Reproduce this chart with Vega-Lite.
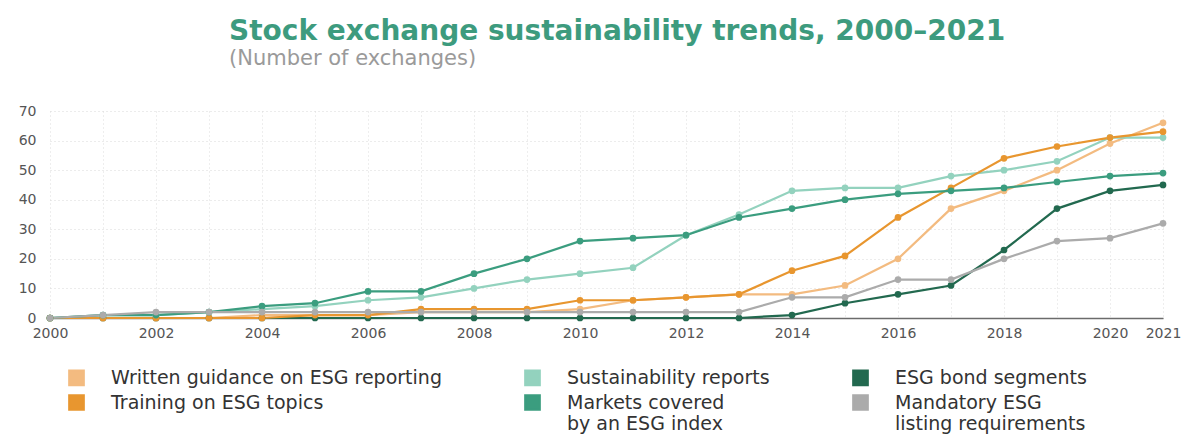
{
  "$schema": "https://vega.github.io/schema/vega-lite/v6.json",
  "width": 1113,
  "height": 207,
  "autosize": {"type": "none"},
  "padding": {"left": 50, "top": 111, "right": 21, "bottom": 116},
  "background": "#ffffff",
  "config": {"view": {"stroke": null}},
  "title": {
    "text": "Stock exchange sustainability trends, 2000–2021",
    "subtitle": "(Number of exchanges)",
    "anchor": "start",
    "frame": "group",
    "dx": 179,
    "offset": 35,
    "font": "DejaVu Sans",
    "fontSize": 28,
    "fontWeight": "bold",
    "color": "#3d9b7e",
    "subtitleFont": "DejaVu Sans",
    "subtitleFontSize": 21,
    "subtitleColor": "#9a9a9a",
    "subtitlePadding": 2
  },
  "data": {
    "values": [
      {"year": 2000, "series": "Written guidance on ESG reporting", "value": 0},
      {"year": 2001, "series": "Written guidance on ESG reporting", "value": 0},
      {"year": 2002, "series": "Written guidance on ESG reporting", "value": 0},
      {"year": 2003, "series": "Written guidance on ESG reporting", "value": 0},
      {"year": 2004, "series": "Written guidance on ESG reporting", "value": 1},
      {"year": 2005, "series": "Written guidance on ESG reporting", "value": 1},
      {"year": 2006, "series": "Written guidance on ESG reporting", "value": 1},
      {"year": 2007, "series": "Written guidance on ESG reporting", "value": 2},
      {"year": 2008, "series": "Written guidance on ESG reporting", "value": 2},
      {"year": 2009, "series": "Written guidance on ESG reporting", "value": 2},
      {"year": 2010, "series": "Written guidance on ESG reporting", "value": 3},
      {"year": 2011, "series": "Written guidance on ESG reporting", "value": 6},
      {"year": 2012, "series": "Written guidance on ESG reporting", "value": 7},
      {"year": 2013, "series": "Written guidance on ESG reporting", "value": 8},
      {"year": 2014, "series": "Written guidance on ESG reporting", "value": 8},
      {"year": 2015, "series": "Written guidance on ESG reporting", "value": 11},
      {"year": 2016, "series": "Written guidance on ESG reporting", "value": 20},
      {"year": 2017, "series": "Written guidance on ESG reporting", "value": 37},
      {"year": 2018, "series": "Written guidance on ESG reporting", "value": 43},
      {"year": 2019, "series": "Written guidance on ESG reporting", "value": 50},
      {"year": 2020, "series": "Written guidance on ESG reporting", "value": 59},
      {"year": 2021, "series": "Written guidance on ESG reporting", "value": 66},

      {"year": 2000, "series": "Sustainability reports", "value": 0},
      {"year": 2001, "series": "Sustainability reports", "value": 1},
      {"year": 2002, "series": "Sustainability reports", "value": 1},
      {"year": 2003, "series": "Sustainability reports", "value": 2},
      {"year": 2004, "series": "Sustainability reports", "value": 3},
      {"year": 2005, "series": "Sustainability reports", "value": 4},
      {"year": 2006, "series": "Sustainability reports", "value": 6},
      {"year": 2007, "series": "Sustainability reports", "value": 7},
      {"year": 2008, "series": "Sustainability reports", "value": 10},
      {"year": 2009, "series": "Sustainability reports", "value": 13},
      {"year": 2010, "series": "Sustainability reports", "value": 15},
      {"year": 2011, "series": "Sustainability reports", "value": 17},
      {"year": 2012, "series": "Sustainability reports", "value": 28},
      {"year": 2013, "series": "Sustainability reports", "value": 35},
      {"year": 2014, "series": "Sustainability reports", "value": 43},
      {"year": 2015, "series": "Sustainability reports", "value": 44},
      {"year": 2016, "series": "Sustainability reports", "value": 44},
      {"year": 2017, "series": "Sustainability reports", "value": 48},
      {"year": 2018, "series": "Sustainability reports", "value": 50},
      {"year": 2019, "series": "Sustainability reports", "value": 53},
      {"year": 2020, "series": "Sustainability reports", "value": 61},
      {"year": 2021, "series": "Sustainability reports", "value": 61},

      {"year": 2000, "series": "ESG bond segments", "value": 0},
      {"year": 2001, "series": "ESG bond segments", "value": 0},
      {"year": 2002, "series": "ESG bond segments", "value": 0},
      {"year": 2003, "series": "ESG bond segments", "value": 0},
      {"year": 2004, "series": "ESG bond segments", "value": 0},
      {"year": 2005, "series": "ESG bond segments", "value": 0},
      {"year": 2006, "series": "ESG bond segments", "value": 0},
      {"year": 2007, "series": "ESG bond segments", "value": 0},
      {"year": 2008, "series": "ESG bond segments", "value": 0},
      {"year": 2009, "series": "ESG bond segments", "value": 0},
      {"year": 2010, "series": "ESG bond segments", "value": 0},
      {"year": 2011, "series": "ESG bond segments", "value": 0},
      {"year": 2012, "series": "ESG bond segments", "value": 0},
      {"year": 2013, "series": "ESG bond segments", "value": 0},
      {"year": 2014, "series": "ESG bond segments", "value": 1},
      {"year": 2015, "series": "ESG bond segments", "value": 5},
      {"year": 2016, "series": "ESG bond segments", "value": 8},
      {"year": 2017, "series": "ESG bond segments", "value": 11},
      {"year": 2018, "series": "ESG bond segments", "value": 23},
      {"year": 2019, "series": "ESG bond segments", "value": 37},
      {"year": 2020, "series": "ESG bond segments", "value": 43},
      {"year": 2021, "series": "ESG bond segments", "value": 45},

      {"year": 2000, "series": "Training on ESG topics", "value": 0},
      {"year": 2001, "series": "Training on ESG topics", "value": 0},
      {"year": 2002, "series": "Training on ESG topics", "value": 0},
      {"year": 2003, "series": "Training on ESG topics", "value": 0},
      {"year": 2004, "series": "Training on ESG topics", "value": 0},
      {"year": 2005, "series": "Training on ESG topics", "value": 1},
      {"year": 2006, "series": "Training on ESG topics", "value": 1},
      {"year": 2007, "series": "Training on ESG topics", "value": 3},
      {"year": 2008, "series": "Training on ESG topics", "value": 3},
      {"year": 2009, "series": "Training on ESG topics", "value": 3},
      {"year": 2010, "series": "Training on ESG topics", "value": 6},
      {"year": 2011, "series": "Training on ESG topics", "value": 6},
      {"year": 2012, "series": "Training on ESG topics", "value": 7},
      {"year": 2013, "series": "Training on ESG topics", "value": 8},
      {"year": 2014, "series": "Training on ESG topics", "value": 16},
      {"year": 2015, "series": "Training on ESG topics", "value": 21},
      {"year": 2016, "series": "Training on ESG topics", "value": 34},
      {"year": 2017, "series": "Training on ESG topics", "value": 44},
      {"year": 2018, "series": "Training on ESG topics", "value": 54},
      {"year": 2019, "series": "Training on ESG topics", "value": 58},
      {"year": 2020, "series": "Training on ESG topics", "value": 61},
      {"year": 2021, "series": "Training on ESG topics", "value": 63},

      {"year": 2000, "series": "Markets covered by an ESG index", "value": 0},
      {"year": 2001, "series": "Markets covered by an ESG index", "value": 1},
      {"year": 2002, "series": "Markets covered by an ESG index", "value": 1},
      {"year": 2003, "series": "Markets covered by an ESG index", "value": 2},
      {"year": 2004, "series": "Markets covered by an ESG index", "value": 4},
      {"year": 2005, "series": "Markets covered by an ESG index", "value": 5},
      {"year": 2006, "series": "Markets covered by an ESG index", "value": 9},
      {"year": 2007, "series": "Markets covered by an ESG index", "value": 9},
      {"year": 2008, "series": "Markets covered by an ESG index", "value": 15},
      {"year": 2009, "series": "Markets covered by an ESG index", "value": 20},
      {"year": 2010, "series": "Markets covered by an ESG index", "value": 26},
      {"year": 2011, "series": "Markets covered by an ESG index", "value": 27},
      {"year": 2012, "series": "Markets covered by an ESG index", "value": 28},
      {"year": 2013, "series": "Markets covered by an ESG index", "value": 34},
      {"year": 2014, "series": "Markets covered by an ESG index", "value": 37},
      {"year": 2015, "series": "Markets covered by an ESG index", "value": 40},
      {"year": 2016, "series": "Markets covered by an ESG index", "value": 42},
      {"year": 2017, "series": "Markets covered by an ESG index", "value": 43},
      {"year": 2018, "series": "Markets covered by an ESG index", "value": 44},
      {"year": 2019, "series": "Markets covered by an ESG index", "value": 46},
      {"year": 2020, "series": "Markets covered by an ESG index", "value": 48},
      {"year": 2021, "series": "Markets covered by an ESG index", "value": 49},

      {"year": 2000, "series": "Mandatory ESG listing requirements", "value": 0},
      {"year": 2001, "series": "Mandatory ESG listing requirements", "value": 1},
      {"year": 2002, "series": "Mandatory ESG listing requirements", "value": 2},
      {"year": 2003, "series": "Mandatory ESG listing requirements", "value": 2},
      {"year": 2004, "series": "Mandatory ESG listing requirements", "value": 2},
      {"year": 2005, "series": "Mandatory ESG listing requirements", "value": 2},
      {"year": 2006, "series": "Mandatory ESG listing requirements", "value": 2},
      {"year": 2007, "series": "Mandatory ESG listing requirements", "value": 2},
      {"year": 2008, "series": "Mandatory ESG listing requirements", "value": 2},
      {"year": 2009, "series": "Mandatory ESG listing requirements", "value": 2},
      {"year": 2010, "series": "Mandatory ESG listing requirements", "value": 2},
      {"year": 2011, "series": "Mandatory ESG listing requirements", "value": 2},
      {"year": 2012, "series": "Mandatory ESG listing requirements", "value": 2},
      {"year": 2013, "series": "Mandatory ESG listing requirements", "value": 2},
      {"year": 2014, "series": "Mandatory ESG listing requirements", "value": 7},
      {"year": 2015, "series": "Mandatory ESG listing requirements", "value": 7},
      {"year": 2016, "series": "Mandatory ESG listing requirements", "value": 13},
      {"year": 2017, "series": "Mandatory ESG listing requirements", "value": 13},
      {"year": 2018, "series": "Mandatory ESG listing requirements", "value": 20},
      {"year": 2019, "series": "Mandatory ESG listing requirements", "value": 26},
      {"year": 2020, "series": "Mandatory ESG listing requirements", "value": 27},
      {"year": 2021, "series": "Mandatory ESG listing requirements", "value": 32}
    ]
  },
  "encoding": {
    "x": {
      "field": "year",
      "type": "quantitative",
      "scale": {"domain": [2000, 2021], "nice": false, "zero": false},
      "axis": {
        "title": null,
        "values": [2000, 2001, 2002, 2003, 2004, 2005, 2006, 2007, 2008, 2009, 2010, 2011, 2012, 2013, 2014, 2015, 2016, 2017, 2018, 2019, 2020, 2021],
        "format": "d",
        "labelExpr": "(datum.value % 2 == 0 || datum.value == 2021) ? datum.label : ''",
        "labelFont": "DejaVu Sans",
        "labelFontSize": 14,
        "labelColor": "#555555",
        "labelPadding": 8,
        "labelFlush": false,
        "labelOverlap": false,
        "ticks": false,
        "domainColor": "#6b6b6b",
        "domainWidth": 1.5,
        "grid": true,
        "gridColor": "#dddddd",
        "gridDash": [1, 3],
        "gridWidth": 1
      }
    },
    "y": {
      "field": "value",
      "type": "quantitative",
      "scale": {"domain": [0, 70], "nice": false},
      "axis": {
        "title": null,
        "values": [0, 10, 20, 30, 40, 50, 60, 70],
        "labelFont": "DejaVu Sans",
        "labelFontSize": 14,
        "labelColor": "#555555",
        "labelPadding": 14,
        "ticks": false,
        "domain": false,
        "grid": true,
        "gridColor": "#d8d8d8",
        "gridDash": [1, 3],
        "gridWidth": 1
      }
    }
  },
  "layer": [
    {
      "mark": {"type": "line", "interpolate": "linear"},
      "encoding": {
        "color": {
          "field": "series",
          "type": "nominal",
          "scale": {
            "domain": ["Written guidance on ESG reporting", "Sustainability reports", "ESG bond segments", "Training on ESG topics", "Markets covered by an ESG index", "Mandatory ESG listing requirements"],
            "range": ["#f3bb80", "#93d2be", "#22694f", "#e8962f", "#3b9d7f", "#ababab"]
          },
          "legend": {
            "title": null,
            "orient": "none",
            "legendX": 17,
            "legendY": 257,
            "columns": 3,
            "direction": "horizontal",
            "symbolType": "square",
            "symbolSize": 210,
            "symbolStrokeWidth": 0,
            "symbolOpacity": 1,
            "labelFont": "DejaVu Sans",
            "labelFontSize": 19,
            "labelColor": "#333333",
            "labelLimit": 600,
            "labelOffset": 25,
            "columnPadding": 78,
            "rowPadding": 0,
            "labelExpr": "datum.label == 'Markets covered by an ESG index' ? ['Markets covered', 'by an ESG index'] : datum.label == 'Mandatory ESG listing requirements' ? ['Mandatory ESG', 'listing requirements'] : datum.label",
            "encode": {"labels": {"update": {"lineHeight": {"value": 21}}}}
          }
        },
        "strokeWidth": {
          "field": "series",
          "type": "nominal",
          "scale": {
            "domain": ["Written guidance on ESG reporting", "Sustainability reports", "ESG bond segments", "Training on ESG topics", "Markets covered by an ESG index", "Mandatory ESG listing requirements"],
            "range": [2.2, 2.2, 3, 3, 3, 2.2]
          },
          "legend": null
        }
      }
    },
    {
      "mark": {"type": "point", "filled": true, "size": 45, "opacity": 1, "shape": "circle"},
      "encoding": {
        "color": {
          "field": "series",
          "type": "nominal"
        }
      }
    }
  ]
}
